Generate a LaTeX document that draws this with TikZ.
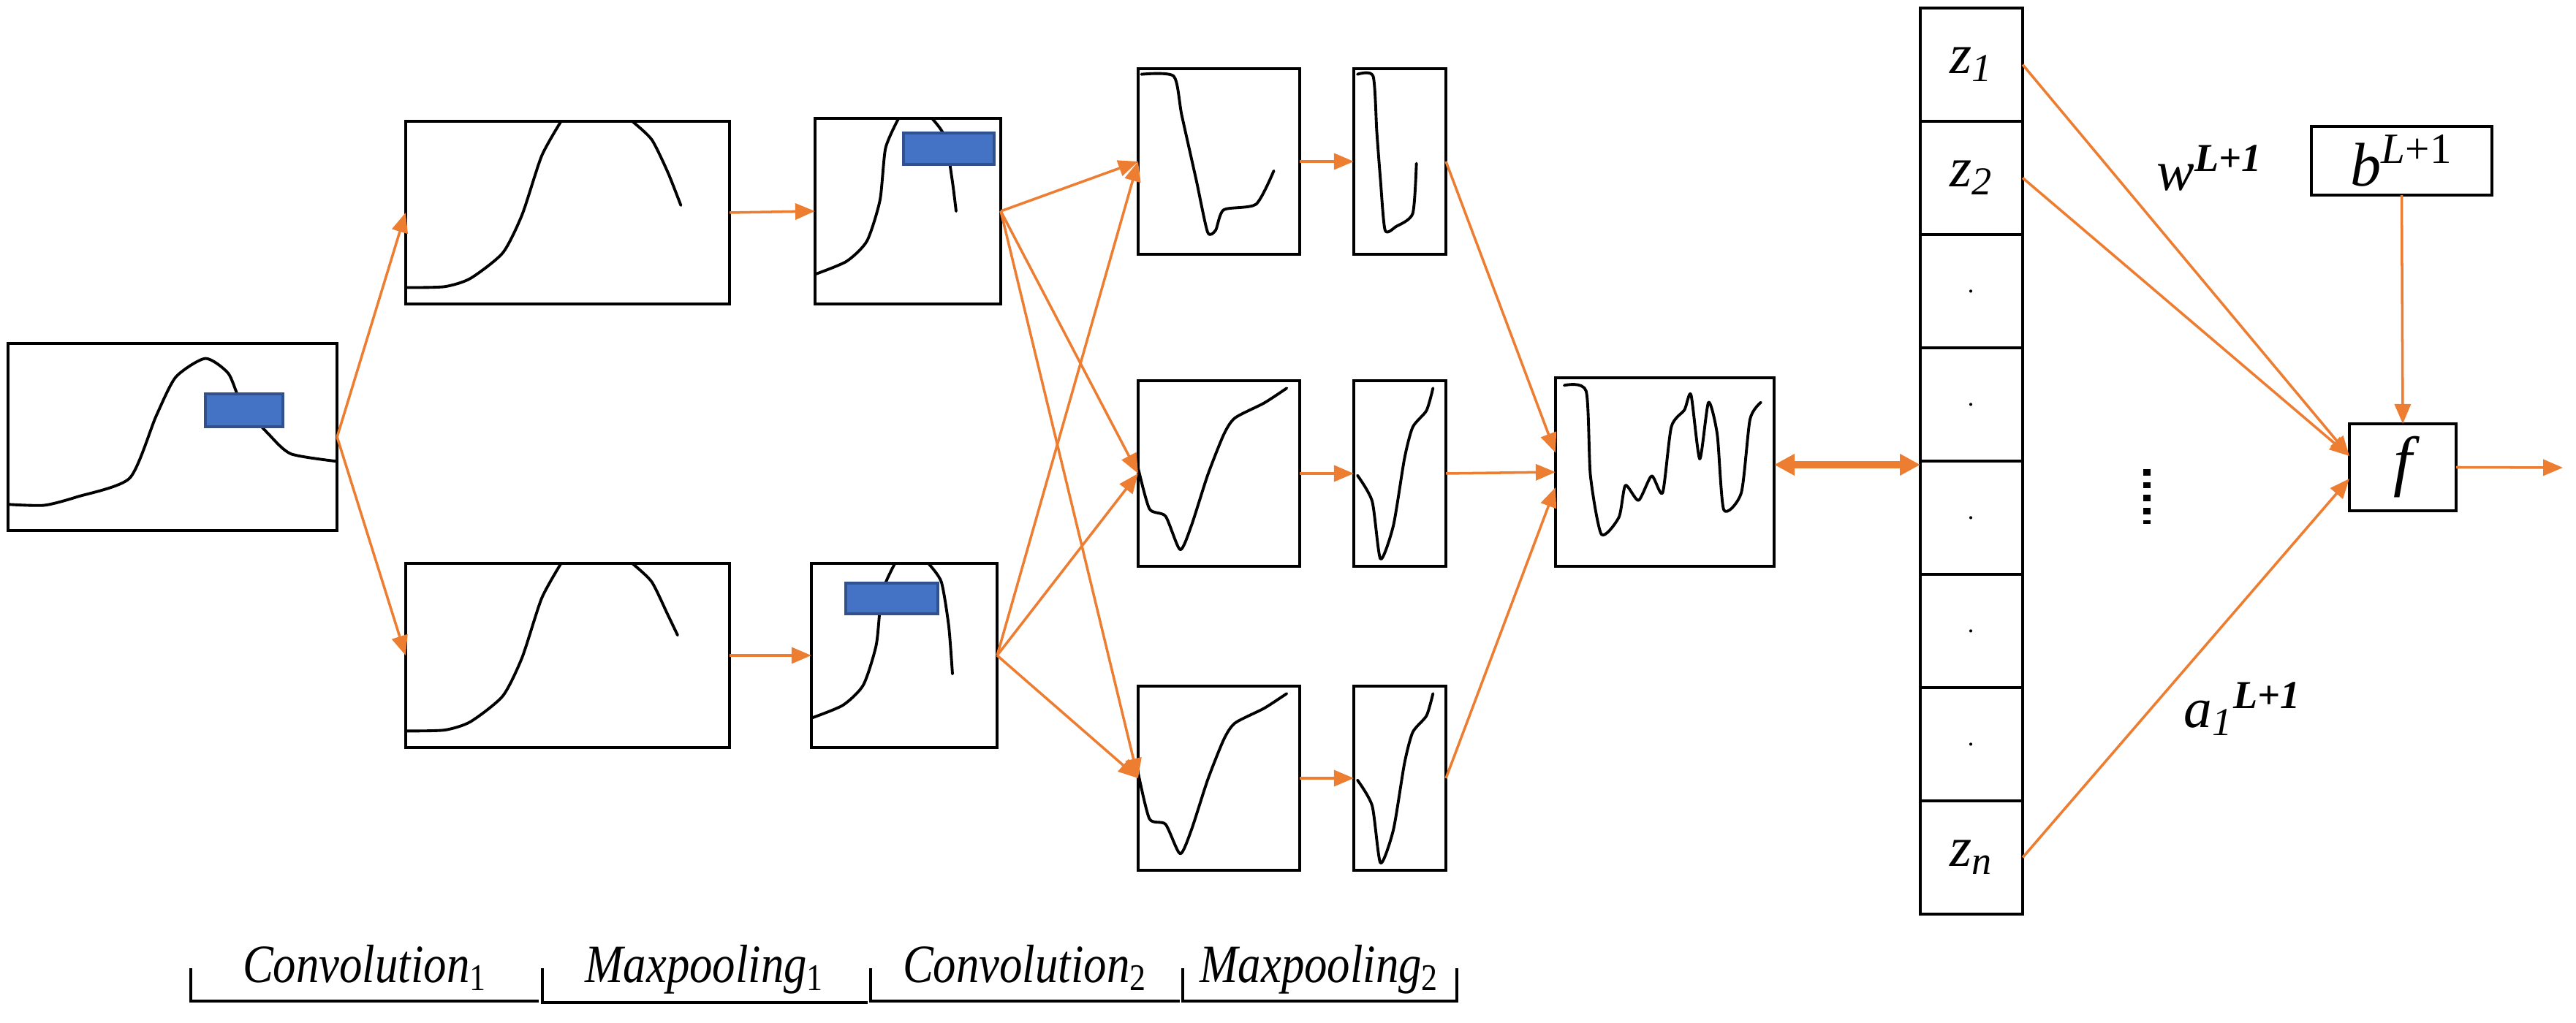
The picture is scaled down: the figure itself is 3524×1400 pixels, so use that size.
\documentclass[tikz,border=0pt]{standalone}
\usepackage{fontspec}
\setmainfont{Liberation Serif}
\usetikzlibrary{arrows.meta}
\definecolor{org}{HTML}{ED7D31}
\definecolor{bfill}{HTML}{4472C4}
\definecolor{bdraw}{HTML}{2F528F}
\newcommand\crv[4]{\begin{scope}[shift={(#1.south west)},x={({#2*0.01cm},0)},y={(0,{#3*0.01cm})}]\draw[crvs] plot[smooth,tension=0.4] coordinates {#4};\end{scope}}
\begin{document}
\begin{tikzpicture}[x=0.01cm,y=0.01cm,
  box/.style={draw,line width=1.3pt,outer sep=0pt,inner sep=0pt},
  crvs/.style={line width=1.1pt,line join=round,line cap=round},
  blue/.style={fill=bfill,draw=bdraw,line width=1pt,inner sep=0pt,outer sep=0pt},
  arr/.style={draw=org,line width=1pt,-{Triangle[length=0.27cm,width=0.22cm]}},
  cell/.style={draw,line width=1.2pt,minimum width=1.4cm,minimum height=1.55cm,inner sep=0pt,outer sep=0pt,font=\fontsize{22}{24}\selectfont\itshape},
  lab/.style={font=\fontsize{22}{24}\selectfont\itshape},
  blab/.style={font=\fontsize{21}{24}\selectfont\itshape,xscale=0.85,anchor=base}]
\useasboundingbox (0,0) rectangle (3524,1400);
% boxes
\node[box,minimum width=4.5cm,minimum height=2.56cm] (in) at (236,802) {};
\node[box,minimum width=4.43cm,minimum height=2.5cm] (c1t) at (776.5,1109) {};
\node[box,minimum width=4.43cm,minimum height=2.52cm] (c1b) at (776.5,503) {};
\node[box,minimum width=2.54cm,minimum height=2.54cm] (p1t) at (1242,1111) {};
\node[box,minimum width=2.54cm,minimum height=2.52cm] (p1b) at (1237,503) {};
\node[box,minimum width=2.21cm,minimum height=2.54cm] (c2a) at (1667.5,1179) {};
\node[box,minimum width=2.21cm,minimum height=2.54cm] (c2b) at (1667.5,752) {};
\node[box,minimum width=2.21cm,minimum height=2.52cm] (c2c) at (1667.5,335) {};
\node[box,minimum width=1.26cm,minimum height=2.54cm] (p2a) at (1915,1179) {};
\node[box,minimum width=1.26cm,minimum height=2.54cm] (p2b) at (1915,752) {};
\node[box,minimum width=1.26cm,minimum height=2.52cm] (p2c) at (1915,335) {};
\node[box,minimum width=2.99cm,minimum height=2.58cm] (m) at (2277.5,754) {};
% curves
\crv{in}{450}{256}{(0,0.14) (0.11,0.135) (0.21,0.18) (0.37,0.28) (0.45,0.61) (0.51,0.82) (0.60,0.92) (0.67,0.84) (0.71,0.68) (0.79,0.52) (0.86,0.41) (1,0.37)}
\crv{c1t}{443}{250}{(0,0.09) (0.12,0.095) (0.2,0.14) (0.3,0.28) (0.36,0.49) (0.42,0.81) (0.48,1)}
\crv{c1t}{443}{250}{(0.7,1) (0.76,0.9) (0.81,0.72) (0.85,0.54)}
\crv{c1b}{443}{252}{(0,0.09) (0.12,0.095) (0.2,0.14) (0.3,0.28) (0.36,0.49) (0.42,0.81) (0.48,1)}
\crv{c1b}{443}{252}{(0.7,1) (0.76,0.9) (0.81,0.72) (0.84,0.61)}
\crv{p1t}{254}{254}{(0,0.16) (0.17,0.23) (0.28,0.34) (0.35,0.56) (0.38,0.84) (0.45,1)}
\crv{p1t}{254}{254}{(0.63,1) (0.70,0.9) (0.74,0.66) (0.76,0.5)}
\crv{p1b}{254}{252}{(0,0.16) (0.17,0.23) (0.28,0.34) (0.35,0.56) (0.38,0.84) (0.45,1)}
\crv{p1b}{254}{252}{(0.63,1) (0.70,0.9) (0.74,0.66) (0.76,0.4)}
\crv{c2a}{221}{254}{(0.02,0.97) (0.22,0.96) (0.27,0.75) (0.36,0.4) (0.43,0.12) (0.48,0.13) (0.53,0.24) (0.73,0.27) (0.84,0.45)}
\crv{p2a}{126}{254}{(0.04,0.97) (0.21,0.96) (0.25,0.66) (0.29,0.4) (0.34,0.13) (0.46,0.15) (0.64,0.22) (0.68,0.49)}
\crv{c2b}{221}{254}{(0,0.53) (0.07,0.31) (0.17,0.27) (0.26,0.09) (0.33,0.22) (0.43,0.49) (0.53,0.71) (0.6,0.8) (0.78,0.88) (0.92,0.96)}
\crv{p2b}{126}{254}{(0.04,0.49) (0.2,0.35) (0.29,0.04) (0.43,0.22) (0.55,0.58) (0.64,0.75) (0.79,0.84) (0.86,0.96)}
\crv{c2c}{221}{252}{(0,0.53) (0.07,0.28) (0.17,0.25) (0.26,0.09) (0.33,0.22) (0.43,0.49) (0.53,0.71) (0.6,0.8) (0.78,0.88) (0.92,0.96)}
\crv{p2c}{126}{252}{(0.04,0.49) (0.2,0.35) (0.29,0.04) (0.43,0.22) (0.55,0.58) (0.64,0.75) (0.79,0.84) (0.86,0.96)}
\crv{m}{299}{258}{(0.04,0.96) (0.14,0.93) (0.16,0.48) (0.21,0.17) (0.29,0.26) (0.32,0.43) (0.38,0.35) (0.44,0.48) (0.49,0.39) (0.53,0.74) (0.59,0.83) (0.62,0.91) (0.66,0.57) (0.7,0.87) (0.74,0.7) (0.77,0.3) (0.85,0.39) (0.89,0.78) (0.94,0.87)}
% blue windows
\node[blue,minimum width=1.06cm,minimum height=0.45cm] (k0) at (334,838.5) {};
\node[blue,minimum width=1.24cm,minimum height=0.43cm] (k1) at (1298,1196.5) {};
\node[blue,minimum width=1.26cm,minimum height=0.42cm] (k2) at (1220,581) {};
% column
\foreach \i/\t in {1/z\textsubscript{1},2/z\textsubscript{2},3/{\fontsize{10}{12}\selectfont.},4/{\fontsize{10}{12}\selectfont.},5/{\fontsize{10}{12}\selectfont.},6/{\fontsize{10}{12}\selectfont.},7/{\fontsize{10}{12}\selectfont.},8/z\textsubscript{n}}{
  \node[cell] (z\i) at (2697,{1466.5-155*\i}) {\t};
}
\coordinate (zin) at (2627,764);
\node[box,minimum width=2.47cm,minimum height=0.94cm,font=\fontsize{24}{26}\selectfont] (b) at (3285.5,1180) {\textit{b}\textsuperscript{\textit{L}+1}};
\node[box,minimum width=1.46cm,minimum height=1.19cm,font=\fontsize{26}{28}\selectfont\itshape] (f) at (3287,760.5) {f};
\coordinate (out) at (3506,760);
% arrows
\draw[arr] (in.east) -- (c1t.west);
\draw[arr] (in.east) -- (c1b.west);
\draw[arr] (c1t.east) -- (p1t.west);
\draw[arr] (c1b.east) -- (p1b.west);
\foreach \p in {p1t,p1b}{\foreach \c in {c2a,c2b,c2c}{\draw[arr] (\p.east) -- (\c.west);}}
\draw[arr] (c2a.east) -- (p2a.west);
\draw[arr] (c2b.east) -- (p2b.west);
\draw[arr] (c2c.east) -- (p2c.west);
\draw[arr] (p2a.east) -- (m.170);
\draw[arr] (p2b.east) -- (m.west);
\draw[arr] (p2c.east) -- (m.188);
\draw[draw=org,line width=3pt,{Triangle[length=0.28cm,width=0.28cm]}-{Triangle[length=0.28cm,width=0.28cm]}] (m.east |- zin) -- (zin);
\draw[arr] (z1.east) -- (f.168);
\draw[arr] (z2.east) -- (f.168);
\draw[arr] (z8.east) -- (f.192);
\draw[arr] (b.south) -- (f.north);
\draw[arr] (f.east) -- (out);
% labels
\node[lab] (wl) at (3023,1170) {w\textsuperscript{\textbf{L+1}}};
\node[lab] (al) at (3068,430) {a\textsubscript{1}\textsuperscript{\textbf{L+1}}};
\draw[line width=3pt,dash pattern=on 2.5pt off 2.5pt] (2937,758) -- (2937,683);
% bottom brackets
\draw[line width=1.2pt] (261,75) -- (261,30) -- (737,30);
\draw[line width=1.2pt] (742,75) -- (742,28) -- (1187,28);
\draw[line width=1.2pt] (1191,75) -- (1191,30) -- (1614,30);
\draw[line width=1.2pt] (1618,75) -- (1618,30) -- (1993,30) -- (1993,75);
\node[blab] (t1) at (499,55) {Convolution\textsubscript{\upshape 1}};
\node[blab] (t2) at (964,55) {Maxpooling\textsubscript{\upshape 1}};
\node[blab] (t3) at (1402,55) {Convolution\textsubscript{\upshape 2}};
\node[blab] (t4) at (1805,55) {Maxpooling\textsubscript{\upshape 2}};
\end{tikzpicture}
\end{document}
